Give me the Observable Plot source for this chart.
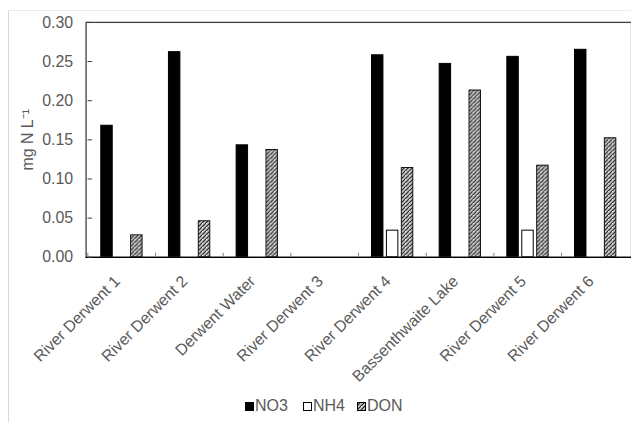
<!DOCTYPE html>
<html><head><meta charset="utf-8">
<script src="https://cdn.jsdelivr.net/npm/d3@7"></script>
<script src="https://cdn.jsdelivr.net/npm/@observablehq/plot@0.6"></script>
<style>
body{margin:0;background:#fff;}
#wrap{position:relative;width:631px;height:422px;overflow:hidden;font-family:"Liberation Sans",Arial,sans-serif;background:#fff;}
#border{position:absolute;left:8px;top:10px;width:800px;height:600px;border-left:1px solid #d9d9d9;border-top:1px solid #ececec;}
#chart{position:absolute;left:0;top:0;}
.leg{position:absolute;top:397px;font-size:16px;color:#595959;display:flex;align-items:center;height:18px;white-space:nowrap;}
.leg svg{margin-right:1px;}
</style>
</head><body>
<svg width="0" height="0" style="position:absolute">
  <defs>
    <pattern id="hatch" patternUnits="userSpaceOnUse" width="4" height="4">
      <rect width="4" height="4" fill="#cfcfcf"/>
      <path d="M-1,1 l2,-2 M0,4 l4,-4 M3,5 l2,-2" stroke="#1a1a1a" stroke-width="1.2"/>
      <rect x="0" y="0" width="1" height="1" fill="#fff"/>
    </pattern>
  </defs>
</svg>
<div id="wrap">
  <div id="border"></div>
  <div id="chart"></div>
  <div class="leg" style="left:245px"><svg width="9" height="9"><rect x="0.5" y="0.5" width="8" height="8" fill="#000" stroke="#000"/></svg>NO3</div>
  <div class="leg" style="left:303px"><svg width="9" height="9"><rect x="0.5" y="0.5" width="8" height="8" fill="#fff" stroke="#000"/></svg>NH4</div>
  <div class="leg" style="left:357px"><svg width="9" height="9"><rect x="0.5" y="0.5" width="8" height="8" fill="url(#hatch)" stroke="#000"/></svg>DON</div>
</div>
<script>
const categories = ["River Derwent 1","River Derwent 2","Derwent Water","River Derwent 3","River Derwent 4","Bassenthwaite Lake","River Derwent 5","River Derwent 6"];
const seriesNames = ["NO3","NH4","DON"];
const no3 = [0.168, 0.262, 0.143, null, 0.258, 0.247, 0.256, 0.265];
const nh4 = [null, null, null, null, 0.034, null, 0.034, null];
const don = [0.028, 0.046, 0.137, null, 0.114, 0.213, 0.117, 0.152];
const yTicks = [0, 0.05, 0.10, 0.15, 0.20, 0.25, 0.30];
const yLabel = "mg N L\u207B\u00B9";

const rows = (vals) => categories.map((c, i) => ({cat: c, v: vals[i]})).filter(d => d.v != null);

const W = 634, H = 385, mT = 22, mB = 127, mL = 86, mR = 0;
const band = (W - mL - mR) / categories.length;
const barW = 12;
const inset = (band - barW) / 2;
const plotH = H - mT - mB;
const FS = "16px";

const chart = Plot.plot({
  width: W, height: H,
  marginTop: mT, marginBottom: mB, marginLeft: mL, marginRight: mR,
  style: {fontFamily: "'Liberation Sans', Arial, sans-serif", fontSize: FS, color: "#595959", background: "transparent", overflow: "visible"},
  x: {domain: categories, padding: 0, axis: null},
  y: {domain: [0, 0.30], axis: null},
  marks: [
    Plot.barY(rows(no3), {x: "cat", y: "v", fill: "#000", stroke: "#000", strokeWidth: 1, insetLeft: inset, insetRight: inset, dx: -15}),
    Plot.barY(rows(nh4), {x: "cat", y: "v", fill: "#fff", stroke: "#000", strokeWidth: 1, insetLeft: inset, insetRight: inset, dx: 0}),
    Plot.barY(rows(don), {x: "cat", y: "v", fill: "url(#hatch)", stroke: "#111", strokeWidth: 1, insetLeft: inset, insetRight: inset, dx: 15}),
    Plot.frame({stroke: "#404040", strokeWidth: 1.3}),
    Plot.ruleY([0], {stroke: "#000", strokeWidth: 1.3}),
    Plot.ruleX(categories, {x: d => d, dx: -band / 2, insetTop: plotH - 4, stroke: "#808080"}),
    Plot.tickY(yTicks, {y: d => d, x: () => categories[0], insetRight: band - 5, stroke: "#404040"}),
    Plot.axisY({ticks: yTicks, tickFormat: d => d.toFixed(2), tickSize: 0, tickPadding: 13, fontSize: FS, fill: "#595959", label: null}),
    Plot.text(categories, {x: d => d, frameAnchor: "bottom", rotate: -45, textAnchor: "end", dx: -1, dy: 25, fill: "#595959", fontSize: FS}),
    Plot.text([yLabel], {frameAnchor: "left", rotate: -90, textAnchor: "middle", dx: -58.5, dy: 0, fill: "#595959", fontSize: FS})
  ]
});
document.getElementById("chart").appendChild(chart);
</script>
</body></html>
